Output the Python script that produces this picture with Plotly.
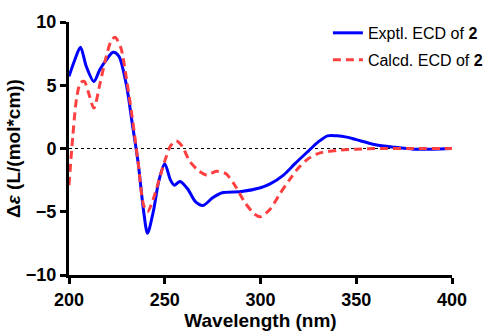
import plotly.graph_objects as go

exp_x = [200, 203, 206, 209, 213, 216, 219, 223, 226, 230, 233, 236, 239, 241, 244, 247, 250, 253, 255, 258, 262, 266, 270, 275, 280, 290, 300, 305, 312, 318, 325, 330, 335, 340, 345, 350, 360, 370, 380, 390, 400]
exp_y = [5.7, 7.0, 8.0, 6.5, 5.3, 6.2, 6.9, 7.6, 7.3, 5.0, 2.0, -1.0, -5.0, -6.7, -5.0, -2.5, -1.2, -2.5, -2.9, -2.6, -3.2, -4.2, -4.5, -3.9, -3.5, -3.4, -3.1, -2.8, -2.1, -1.2, -0.2, 0.5, 1.0, 1.0, 0.9, 0.7, 0.3, 0.1, -0.05, -0.05, 0.0]

calc_x = [200, 202, 204, 206, 208, 210, 213, 216, 219, 222, 224, 227, 230, 233, 236, 239, 241, 244, 247, 250, 253, 256, 259, 263, 268, 272, 277, 282, 287, 292, 297, 300, 305, 310, 315, 320, 325, 330, 340, 350, 360, 380, 400]
calc_y = [-2.9, 1.0, 4.0, 5.2, 5.3, 4.5, 3.2, 5.0, 7.0, 8.5, 8.8, 8.0, 5.5, 2.5, -1.0, -4.5, -5.0, -4.0, -2.5, -1.0, 0.2, 0.6, 0.2, -1.0, -1.8, -2.1, -1.8, -2.0, -3.0, -4.3, -5.2, -5.4, -4.8, -3.6, -2.5, -1.5, -0.8, -0.4, -0.15, -0.05, 0.0, 0.0, 0.0]

x_ticks = [200, 250, 300, 350, 400]
y_ticks = [-10, -5, 0, 5, 10]

fig = go.Figure()
fig.add_trace(go.Scatter(x=exp_x, y=exp_y, mode="lines", name="Exptl. ECD of <b>2</b>",
                         legendgroup="a",
                         line=dict(color="#0000ff", width=3, shape="spline", smoothing=0.8)))
fig.add_trace(go.Scatter(x=calc_x, y=calc_y, mode="lines", name="Calcd. ECD of <b>2</b>",
                         legendgroup="b",
                         line=dict(color="#ff4040", width=3, dash="8px,5px", shape="spline", smoothing=0.8)))

fig.add_shape(type="line", xref="x", yref="y", x0=200, x1=400, y0=0, y1=0,
              line=dict(color="black", width=1, dash="dot"), layer="below")

axis_font = dict(family="Liberation Sans", size=18, color="black", weight="bold")
title_font = dict(family="Liberation Sans", size=19, color="black", weight="bold")
fig.update_layout(
    width=499, height=331,
    margin=dict(l=69, r=47, t=22, b=56, autoexpand=False),
    plot_bgcolor="white", paper_bgcolor="white",
    font=dict(family="Liberation Sans", color="black"),
    xaxis=dict(range=[200, 400], tickvals=x_ticks, showgrid=False, zeroline=False,
               showline=True, linecolor="black", linewidth=3, ticks="outside",
               ticklen=6, tickwidth=3, tickcolor="black", tickfont=axis_font, automargin=False,
               title=dict(text="Wavelength (nm)", font=title_font, standoff=4)),
    yaxis=dict(range=[-10, 10], tickvals=y_ticks, showgrid=False, zeroline=False,
               showline=True, linecolor="black", linewidth=3, ticks="outside",
               ticklen=6, tickwidth=3, tickcolor="black", tickfont=axis_font, automargin=False,
               title=dict(text="Δ<i>ε</i> (L/(mol*cm))", font=title_font, standoff=1)),
    legend=dict(x=0.676, y=1.024, xanchor="left", yanchor="top", bgcolor="rgba(0,0,0,0)",
                font=dict(family="Liberation Sans", size=16, color="black"), tracegroupgap=3,
                itemwidth=30),
)

fig.write_html("out.html", post_script="document.body.style.margin='0';",
               config={"displayModeBar": False})
